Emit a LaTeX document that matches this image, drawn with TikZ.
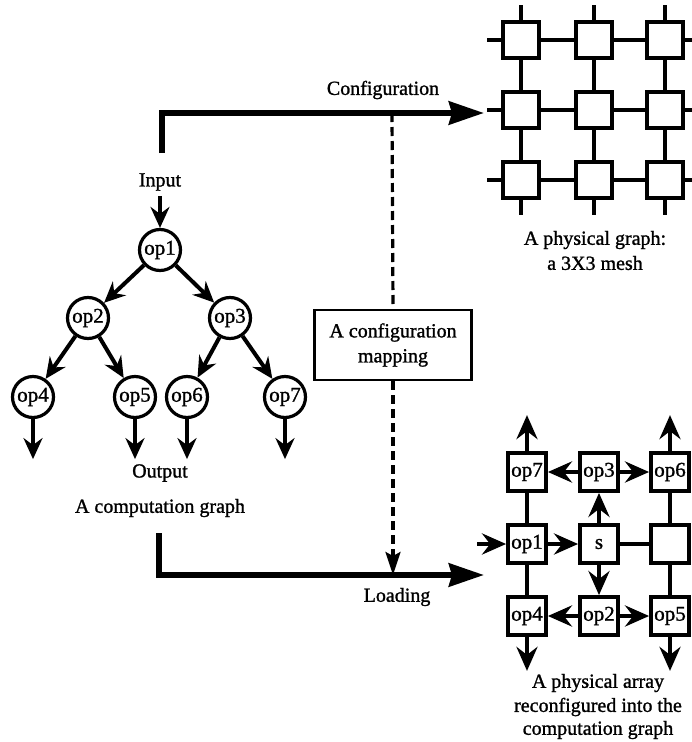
\documentclass[tikz,border=0pt]{standalone}
\usepackage{fontspec}
\setmainfont{Liberation Serif}[FakeBold=1.2]
\usetikzlibrary{arrows.meta}
\begin{document}
\begin{tikzpicture}[x=1pt,y=-1pt,
  every node/.style={font=\fontsize{20}{23}\selectfont},
  opc/.style={circle,draw,line width=3.2pt,minimum size=41pt,inner sep=0pt,font=\fontsize{21}{23}\selectfont},
  msq/.style={draw,line width=3.8pt,minimum size=36pt,inner sep=0pt},
  asq/.style={draw,line width=3.8pt,minimum size=38pt,inner sep=0pt,font=\fontsize{21}{23}\selectfont},
  lnk/.style={line width=3.2pt},
  tarr/.style={line width=4pt,-{Stealth[length=21pt,width=19pt,inset=7pt]}},
  aarr/.style={line width=4pt,-{Stealth[length=24pt,width=21pt,inset=8pt]}},
  barr/.style={line width=6pt,-{Stealth[length=35pt,width=23pt,inset=3pt]}},
  lbl/.style={inner sep=0pt}]
\useasboundingbox (0,0) rectangle (692,742);
% ---------- computation graph ----------
\node[opc] (op1) at (160,250) {op1};
\node[opc] (op2) at (88,318) {op2};
\node[opc] (op3) at (230,318) {op3};
\node[opc] (op4) at (33,397) {op4};
\node[opc] (op5) at (135,397) {op5};
\node[opc] (op6) at (187,397) {op6};
\node[opc] (op7) at (285,397) {op7};
\node[lbl] (inp) at (160,182) {Input};
\node[lbl] (outp) at (160,473) {Output};
\node[lbl] (cgcap) at (160,508) {A computation graph};
\draw[tarr] (inp.south) ++(0,5) coordinate (inpt) -- (op1.north);
\draw[tarr] (op1) -- (op2);
\draw[tarr] (op1) -- (op3);
\draw[tarr] (op2) -- (op4);
\draw[tarr] (op2) -- (op5);
\draw[tarr] (op3) -- (op6);
\draw[tarr] (op3) -- (op7);
\foreach \n in {op4,op5,op6,op7}{
  \draw[tarr] (\n.south) -- ++(0,40) coordinate (\n-out);
}
% ---------- top mesh ----------
\foreach \r/\y in {1/40,2/110,3/180}{
  \foreach \c/\x in {1/521,2/594,3/665}{
    \node[msq] (m\r\c) at (\x,\y) {};
  }
}
\foreach \r in {1,2,3}{
  \draw[lnk] (m\r1) -- (m\r2);
  \draw[lnk] (m\r2) -- (m\r3);
  \draw[lnk] (m\r1.west) -- ++(-14,0) coordinate (ml\r);
  \draw[lnk] (m\r3.east) -- ++(14,0) coordinate (mr\r);
}
\foreach \c in {1,2,3}{
  \draw[lnk] (m1\c) -- (m2\c);
  \draw[lnk] (m2\c) -- (m3\c);
  \draw[lnk] (m1\c.north) -- ++(0,-15) coordinate (mt\c);
  \draw[lnk] (m3\c.south) -- ++(0,15) coordinate (mb\c);
}
\node[lbl] (pgcap1) at (595,240) {A physical graph:};
\node[lbl] (pgcap2) at (595,263) {a 3X3 mesh};
% ---------- configuration / loading ----------
\coordinate (cfgstart) at (162,153);
\coordinate (cfgcorner) at (162,113);
\coordinate (cfgend) at (484,113);
\draw[barr] (cfgstart) -- (cfgcorner) -- (cfgend);
\node[lbl] (cfglbl) at (383,90) {Configuration};
\node[draw,line width=2.8pt,minimum width=157pt,minimum height=70pt,align=center,inner sep=2pt] (cmap) at (393,345) {A configuration\\[2pt]mapping};
\coordinate (dtop) at (392,113);
\coordinate (ldstart) at (159,533);
\coordinate (ldcorner) at (159,575);
\coordinate (ldend) at (484,575);
\coordinate (dbot) at (393,575);
\draw[line width=3.2pt,dash pattern=on 9pt off 5pt] (dtop) -- (cmap.north);
\draw[line width=3.2pt,dash pattern=on 9pt off 5pt,-{Stealth[length=23pt,width=15pt,inset=4pt]}] (cmap.south) -- (dbot);
\draw[barr] (ldstart) -- (ldcorner) -- (ldend);
\node[lbl] (ldlbl) at (397,597) {Loading};
% ---------- configured array ----------
\node[asq] (a7) at (527,472) {op7};
\node[asq] (a3) at (599,472) {op3};
\node[asq] (a6) at (670,472) {op6};
\node[asq] (a1) at (527,544) {op1};
\node[asq] (as) at (599,544) {s};
\node[asq] (ae) at (670,544) {};
\node[asq] (a4) at (527,616) {op4};
\node[asq] (a2) at (599,616) {op2};
\node[asq] (a5) at (670,616) {op5};
\draw[lnk] (a7) -- (a1);
\draw[lnk] (a1) -- (a4);
\draw[lnk] (a6) -- (ae);
\draw[lnk] (ae) -- (a5);
\draw[lnk] (as) -- (ae);
\draw[aarr] (a1) -- (as);
\draw[aarr] (as) -- (a3);
\draw[aarr] (as) -- (a2);
\draw[aarr] (a3) -- (a7);
\draw[aarr] (a3) -- (a6);
\draw[aarr] (a2) -- (a4);
\draw[aarr] (a2) -- (a5);
\coordinate (ain) at (477,544);
\draw[aarr] (ain) -- (a1);
\draw[aarr] (a7.north) -- ++(0,-36) coordinate (a7o);
\draw[aarr] (a6.north) -- ++(0,-36) coordinate (a6o);
\draw[aarr] (a4.south) -- ++(0,34) coordinate (a4o);
\draw[aarr] (a5.south) -- ++(0,34) coordinate (a5o);
\node[lbl] (pacap1) at (598,683) {A physical array};
\node[lbl] (pacap2) at (598,707) {reconfigured into the};
\node[lbl] (pacap3) at (598,730) {computation graph};
\end{tikzpicture}
\end{document}
